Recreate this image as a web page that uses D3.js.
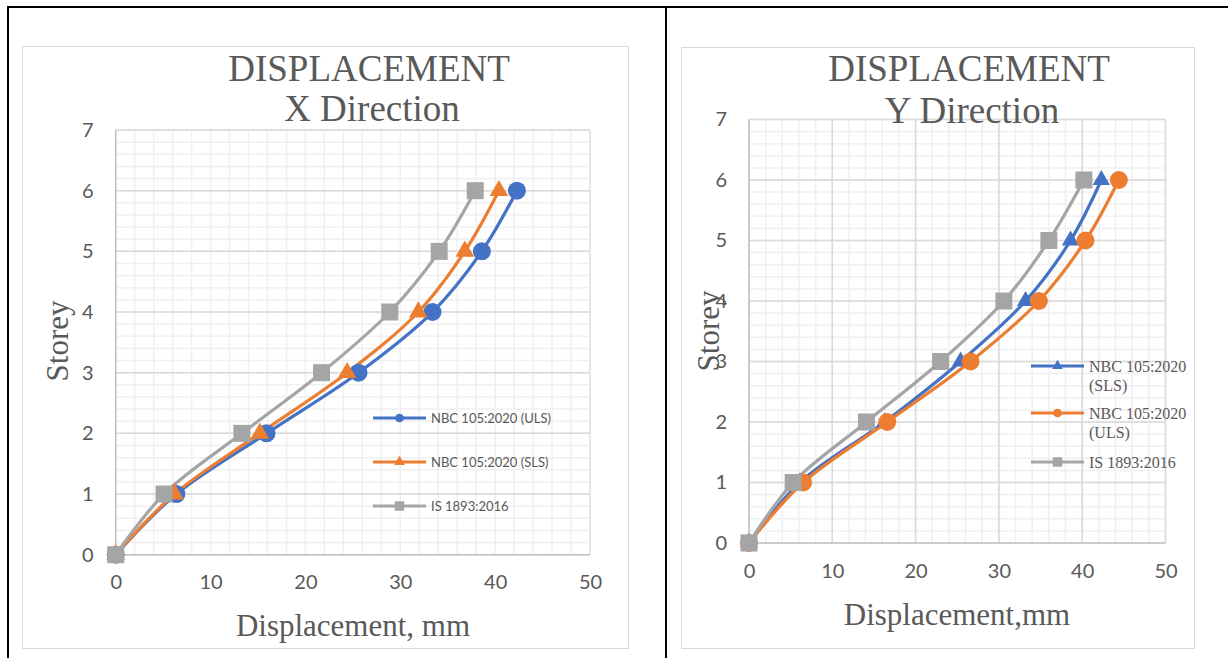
<!DOCTYPE html>
<html>
<head>
<meta charset="utf-8">
<script src="https://cdn.jsdelivr.net/npm/d3@7"></script>
<style>
  body { margin: 0; background: #fff; }
  svg { display: block; }
</style>
</head>
<body>
<svg id="page" width="1228" height="658"></svg>
<script>
// storeys are shared by both charts
var storeys = [0, 1, 2, 3, 4, 5, 6];
var xTicks = [0, 10, 20, 30, 40, 50];
var yTicks = [0, 1, 2, 3, 4, 5, 6, 7];

// X direction displacement (mm)
var xUls = [0, 6.4, 15.9, 25.6, 33.4, 38.6, 42.3];
var xSls = [0, 6.2, 15.2, 24.4, 31.9, 36.8, 40.4];
var xIs  = [0, 5.1, 13.3, 21.7, 28.9, 34.1, 37.9];

// Y direction displacement (mm)
var ySls = [0, 6.1, 16.3, 25.4, 33.2, 38.6, 42.3];
var yUls = [0, 6.5, 16.6, 26.6, 34.8, 40.4, 44.4];
var yIs  = [0, 5.3, 14.1, 23.0, 30.6, 36.0, 40.2];

var blue = "#4472c4", orange = "#ed7d31", grey = "#a5a5a5";
var textColor = "#595959";
var serif = "'Liberation Serif', 'Times New Roman', serif";
var sans = "Lato, 'Open Sans', sans-serif";

var svg = d3.select("#page");

// table borders around the two cells
svg.append("line").attr("x1", 7).attr("x2", 1228).attr("y1", 7).attr("y2", 7)
   .attr("stroke", "#000").attr("stroke-width", 2);
svg.append("line").attr("x1", 8).attr("x2", 8).attr("y1", 6).attr("y2", 658)
   .attr("stroke", "#000").attr("stroke-width", 2);
svg.append("line").attr("x1", 666).attr("x2", 666).attr("y1", 6).attr("y2", 658)
   .attr("stroke", "#000").attr("stroke-width", 2);

var symbolFor = function(name){
    if(name == "circle") return d3.symbolCircle;
    if(name == "triangle") return d3.symbolTriangle;
    return d3.symbolSquare;
};

var drawChart = function(cfg){
    var g = svg.append("g");

    // chart frame
    g.append("rect")
        .attr("x", cfg.frame[0] + 0.5).attr("y", cfg.frame[1] + 0.5)
        .attr("width", cfg.frame[2]).attr("height", cfg.frame[3])
        .attr("fill", "#fff").attr("stroke", "#d9d9d9");

    var x = d3.scaleLinear().domain([0, 50]).range(cfg.xRange);
    var y = d3.scaleLinear().domain([0, 7]).range(cfg.yRange);

    // minor grid
    var grid = g.append("g");
    grid.selectAll(".vminor").data(d3.range(0, 50.01, 2)).enter().append("line")
        .attr("x1", function(d){ return x(d); }).attr("x2", function(d){ return x(d); })
        .attr("y1", y(0)).attr("y2", y(7))
        .attr("stroke", "#f0f0f0").attr("stroke-width", 1.5);
    grid.selectAll(".hminor").data(d3.range(0, 7.001, 0.2)).enter().append("line")
        .attr("x1", x(0)).attr("x2", x(50))
        .attr("y1", function(d){ return y(d); }).attr("y2", function(d){ return y(d); })
        .attr("stroke", "#f0f0f0").attr("stroke-width", 1.5);
    if(cfg.majorX){
        grid.selectAll(".vmajor").data(xTicks.slice(1)).enter().append("line")
            .attr("x1", function(d){ return x(d); }).attr("x2", function(d){ return x(d); })
            .attr("y1", y(0)).attr("y2", y(7))
            .attr("stroke", "#d9d9d9").attr("stroke-width", 1.5);
    } else {
        grid.append("line").attr("x1", x(50)).attr("x2", x(50)).attr("y1", y(0)).attr("y2", y(7))
            .attr("stroke", "#e3e3e3").attr("stroke-width", 1.5);
    }
    grid.selectAll(".hmajor").data(yTicks.slice(1)).enter().append("line")
        .attr("x1", x(0)).attr("x2", x(50))
        .attr("y1", function(d){ return y(d); }).attr("y2", function(d){ return y(d); })
        .attr("stroke", "#d9d9d9").attr("stroke-width", 1.5);

    // axes lines
    g.append("line").attr("x1", x(0)).attr("x2", x(0)).attr("y1", y(0)).attr("y2", y(7))
        .attr("stroke", "#bfbfbf").attr("stroke-width", 1.5);
    g.append("line").attr("x1", x(0)).attr("x2", x(50)).attr("y1", y(0)).attr("y2", y(0))
        .attr("stroke", "#bfbfbf").attr("stroke-width", 1.5);

    // tick labels
    var xAxis = g.append("g").attr("transform", "translate(0," + y(0) + ")")
        .call(d3.axisBottom(x).tickValues(xTicks).tickFormat(d3.format("d"))
            .tickSize(0).tickPadding(cfg.xPad));
    var yAxis = g.append("g").attr("transform", "translate(" + x(0) + ",0)")
        .call(d3.axisLeft(y).tickValues(yTicks).tickFormat(d3.format("d"))
            .tickSize(0).tickPadding(cfg.yPad));
    [xAxis, yAxis].forEach(function(a){
        a.select(".domain").remove();
        a.selectAll("text").attr("fill", textColor)
            .style("font-family", sans).style("font-size", "20px");
    });

    // series lines and markers
    var line = d3.line()
        .x(function(d){ return x(d[0]); })
        .y(function(d){ return y(d[1]); })
        .curve(d3.curveCatmullRom.alpha(0.5));

    cfg.series.forEach(function(s){
        var pts = s.values.map(function(v, i){ return [v, storeys[i]]; });
        g.append("path").attr("d", line(pts))
            .attr("fill", "none").attr("stroke", s.color).attr("stroke-width", 3.2);
    });
    cfg.series.forEach(function(s){
        var pts = s.values.map(function(v, i){ return [v, storeys[i]]; });
        g.selectAll(null).data(pts).enter().append("path")
            .attr("transform", function(d){ return "translate(" + x(d[0]) + "," + y(d[1]) + ")"; })
            .attr("d", d3.symbol().type(symbolFor(s.marker)).size(s.size))
            .attr("fill", s.color);
    });

    // legend
    cfg.series.forEach(function(s, i){
        var ly = cfg.legend.y[i];
        var lg = g.append("g");
        lg.append("line").attr("x1", cfg.legend.x).attr("x2", cfg.legend.x + cfg.legend.w)
            .attr("y1", ly).attr("y2", ly).attr("stroke", s.color).attr("stroke-width", 3.2);
        lg.append("path")
            .attr("transform", "translate(" + (cfg.legend.x + cfg.legend.w / 2) + "," + ly + ")")
            .attr("d", d3.symbol().type(symbolFor(s.marker)).size(s.legendSize))
            .attr("fill", s.color);
        var t = lg.append("text").attr("x", cfg.legend.x + cfg.legend.w + 5).attr("y", ly)
            .attr("fill", textColor)
            .style("font-family", cfg.legend.font).style("font-size", cfg.legend.size + "px");
        s.label.forEach(function(part, k){
            t.append("tspan").attr("x", cfg.legend.x + cfg.legend.w + 5)
                .attr("dy", k == 0 ? "0.35em" : "1.2em").text(part);
        });
    });

    // titles
    g.append("text").attr("x", cfg.title.x).attr("y", 81).attr("text-anchor", "middle")
        .attr("fill", textColor).style("font-family", serif).style("font-size", "37px")
        .text("DISPLACEMENT");
    g.append("text").attr("x", cfg.title.x + 3).attr("y", cfg.title.y2).attr("text-anchor", "middle")
        .attr("fill", textColor).style("font-family", serif).style("font-size", "37px")
        .text(cfg.title.sub);

    g.append("text").attr("x", cfg.xTitle[0]).attr("y", cfg.xTitle[1]).attr("text-anchor", "middle")
        .attr("fill", textColor).style("font-family", serif).style("font-size", "31px")
        .text(cfg.xTitle[2]);
    g.append("text")
        .attr("transform", "translate(" + cfg.yTitle[0] + "," + cfg.yTitle[1] + ") rotate(-90)")
        .attr("text-anchor", "middle").attr("dy", "0.35em")
        .attr("fill", textColor).style("font-family", serif).style("font-size", "31px")
        .text("Storey");
};

drawChart({
    frame: [22, 46, 606, 602],
    xRange: [115.7, 590],
    yRange: [554.7, 130],
    majorX: false,
    xPad: 20, yPad: 22,
    title: {x: 369, y2: 121, sub: "X Direction"},
    xTitle: [353, 636, "Displacement, mm"],
    yTitle: [57, 341],
    legend: {x: 373, w: 53, y: [418, 462, 506], font: sans, size: 13},
    series: [
        {values: xUls, color: blue, marker: "circle", size: 254, legendSize: 60, label: ["NBC 105:2020 (ULS)"]},
        {values: xSls, color: orange, marker: "triangle", size: 150, legendSize: 50, label: ["NBC 105:2020 (SLS)"]},
        {values: xIs, color: grey, marker: "square", size: 289, legendSize: 90, label: ["IS 1893:2016"]}
    ]
});

drawChart({
    frame: [681, 47, 513, 601],
    xRange: [749, 1165.5],
    yRange: [543, 119.5],
    majorX: true,
    xPad: 21, yPad: 22,
    title: {x: 969, y2: 123, sub: "Y Direction"},
    xTitle: [957, 625, "Displacement,mm"],
    yTitle: [708, 331],
    legend: {x: 1031, w: 53, y: [366, 413, 462], font: serif, size: 16},
    series: [
        {values: ySls, color: blue, marker: "triangle", size: 130, legendSize: 50, label: ["NBC 105:2020", "(SLS)"]},
        {values: yUls, color: orange, marker: "circle", size: 254, legendSize: 60, label: ["NBC 105:2020", "(ULS)"]},
        {values: yIs, color: grey, marker: "square", size: 289, legendSize: 90, label: ["IS 1893:2016"]}
    ]
});
</script>
</body>
</html>
